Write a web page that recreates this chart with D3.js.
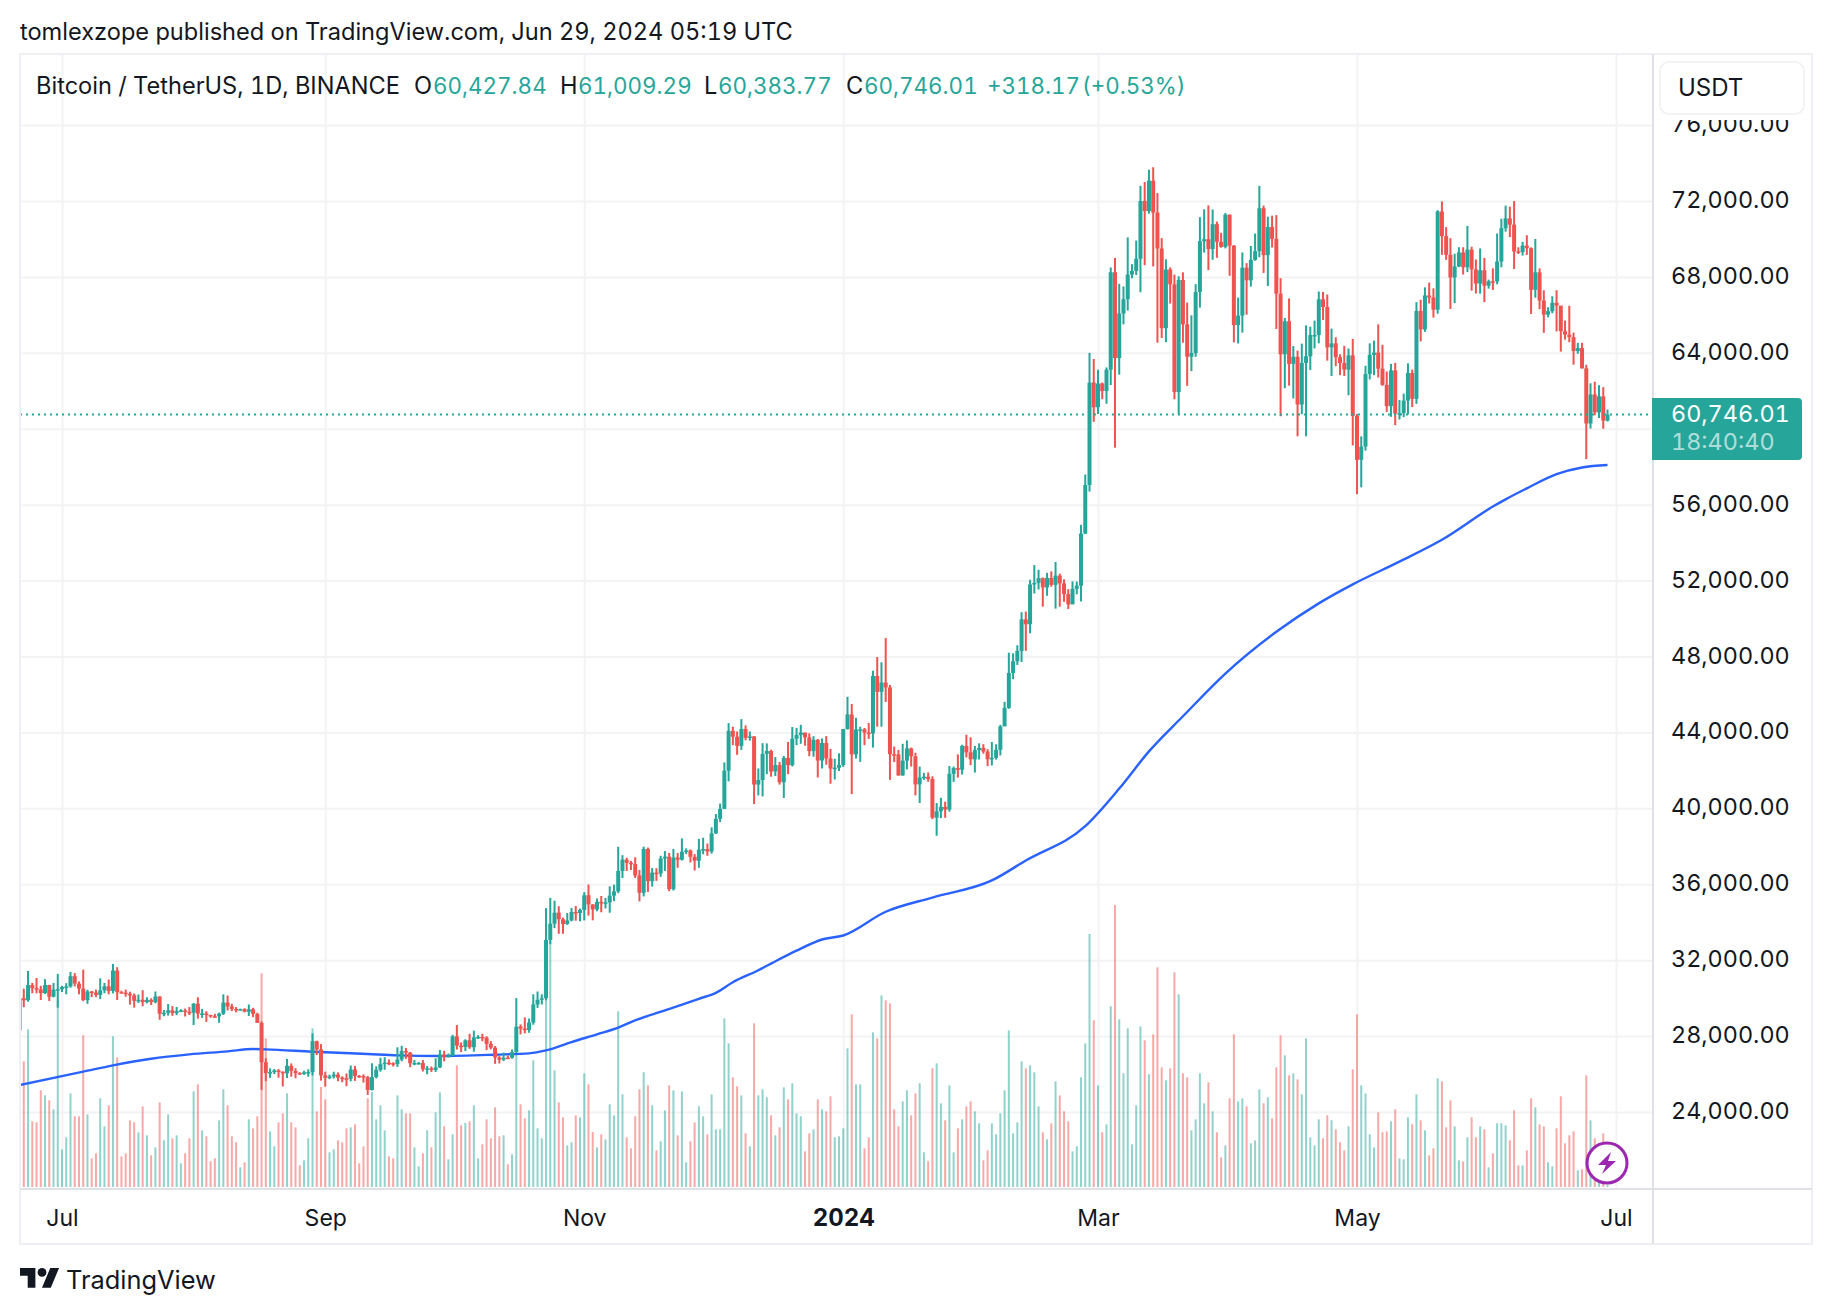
<!DOCTYPE html>
<html>
<head>
<meta charset="utf-8">
<script src="https://cdn.jsdelivr.net/npm/d3@7"></script>
<style>
  body { margin: 0; background: #fff; }
  text { font-family: Inter, "Noto Sans", sans-serif; fill: #131722; font-variant-numeric: tabular-nums; }
</style>
</head>
<body>
<div id="chart-area"></div>
<script>
const UP = "#26a69a"
const DOWN = "#ef5350"
const GRID = "#f3f3f5"

const firstDay = new Date(Date.UTC(2023, 5, 21))

const opens = [28311,29993,29889,30688,30528,30462,30267,30692,30077,30447,
  30472,30585,30617,31156,30767,30504,29895,30348,30292,30171,30414,30620,30380,31454,30312,30289,30230,30145,29856,29913,29793,29908,29790,30083,29176,29228,29354,29213,29314,29352,29281,
  29232,29705,29186,29193,29113,29042,29041,29180,29766,29561,29429,29397,29415,29283,29408,29170,28700,26623,26050,26100,26189,26124,26041,26431,26163,26047,26004,26089,26106,27727,27297,
  25931,25800,25869,25969,25813,25779,25753,26240,25905,25895,25832,25162,25840,26222,26522,26600,26568,26527,26763,27210,27132,26568,26580,26580,26256,26298,26217,26352,27021,26906,
  26962,27983,27494,27426,27778,27412,27931,27956,27917,27590,27391,26875,26759,26862,26852,27154,28500,28396,28320,28713,29669,29910,29992,33069,33922,34502,34156,33909,34089,34538,34484,
  34650,35421,34938,34675,35071,35011,35046,35399,35624,36701,37300,37130,37065,36462,35551,37858,36163,36613,36568,37359,37452,35741,37408,37294,37713,37780,37447,37242,37818,37854,
  37723,38682,39450,39973,41980,44080,43773,43293,44177,43713,43789,41253,41492,42869,43022,41941,42278,41374,42657,42272,43668,43861,43997,43740,43016,43613,42520,43442,42628,42099,42141,
  42283,44179,44946,42845,44151,44162,43989,43943,46970,46139,46627,46368,42853,42842,41732,42511,43154,42742,41262,41618,41665,41545,39507,39845,40077,39933,41816,42120,42035,43288,42952,
  42582,43075,43185,42992,42583,42658,43084,44318,45293,47132,47751,48293,49958,49699,51795,51880,52124,51642,52137,51774,52258,51849,51288,50744,51568,51728,54476,57037,62432,
  61130,62387,61987,63113,68245,63724,66074,66823,68124,68313,68955,72000,71470,73072,71388,69499,65300,68393,67610,61937,67840,65501,63796,63990,67209,69880,69988,69469,70780,69850,69582,
  71280,69649,65463,65963,68487,67821,68896,69360,71620,69146,70631,70006,67116,63924,65661,63419,63793,61277,63470,63818,64941,64941,66819,66414,64289,64498,63770,63461,63118,63866,
  60672,58364,59060,62882,63892,64012,63165,62312,61193,63074,60799,60825,61483,62940,61577,66206,65235,67024,66915,66274,71446,70148,69166,67969,68549,69290,68507,69436,68398,67652,68352,
  67540,67766,67765,68809,70567,71082,70757,69342,69310,69648,69512,67321,68243,66756,66011,66191,66636,66490,65140,64960,64828,64096,64252,63180,60277,61804,60864,61706,60428]

const closes = [29993,29889,30688,30528,30462,30267,30692,30077,30447,30472,
  30585,30617,31156,30767,30504,29895,30348,30292,30171,30414,30620,30380,31454,30312,30289,30230,30145,29856,29913,29793,29908,29790,30083,29176,29228,29354,29213,29314,29352,29281,29232,
  29705,29186,29193,29113,29042,29041,29180,29766,29561,29429,29397,29415,29283,29408,29170,28700,26623,26050,26100,26189,26124,26041,26431,26163,26047,26004,26089,26106,27727,27297,25931,
  25800,25869,25969,25813,25779,25753,26240,25905,25895,25832,25162,25840,26222,26522,26600,26568,26527,26763,27210,27132,26568,26580,26580,26256,26298,26217,26352,27021,26906,26962,
  27983,27494,27426,27778,27412,27931,27956,27917,27590,27391,26875,26759,26862,26852,27154,28500,28396,28320,28713,29669,29910,29992,33069,33922,34502,34156,33909,34089,34538,34484,34650,
  35421,34938,34675,35071,35011,35046,35399,35624,36701,37300,37130,37065,36462,35551,37858,36163,36613,36568,37359,37452,35741,37408,37294,37713,37780,37447,37242,37818,37854,37723,
  38682,39450,39973,41980,44080,43773,43293,44177,43713,43789,41253,41492,42869,43022,41941,42278,41374,42657,42272,43668,43861,43997,43740,43016,43613,42520,43442,42628,42099,42141,42283,
  44179,44946,42845,44151,44162,43989,43943,46970,46139,46627,46368,42853,42842,41732,42511,43154,42742,41262,41618,41665,41545,39507,39845,40077,39933,41816,42120,42035,43288,42952,42582,
  43075,43185,42992,42583,42658,43084,44318,45293,47132,47751,48293,49958,49699,51795,51880,52124,51642,52137,51774,52258,51849,51288,50744,51568,51728,54476,57037,62432,61130,
  62387,61987,63113,68245,63724,66074,66823,68124,68313,68955,72000,71470,73072,71388,69499,65300,68393,67610,61937,67840,65501,63796,63990,67209,69880,69988,69469,70780,69850,69582,71280,
  69649,65463,65963,68487,67821,68896,69360,71620,69146,70631,70006,67116,63924,65661,63419,63793,61277,63470,63818,64941,64941,66819,66414,64289,64498,63770,63461,63118,63866,60672,
  58364,59060,62882,63892,64012,63165,62312,61193,63074,60799,60825,61483,62940,61577,66206,65235,67024,66915,66274,71446,70148,69166,67969,68549,69290,68507,69436,68398,67652,68352,67540,
  67766,67765,68809,70567,71082,70757,69342,69310,69648,69512,67321,68243,66756,66011,66191,66636,66490,65140,64960,64828,64096,64252,63180,60277,61804,60864,61706,60428,60746]

const highs = [30800,30500,31431,30800,31060,30650,31000,30700,30800,31280,
  30650,30790,31375,31320,30880,31500,30440,30380,30450,31045,30800,30980,31804,31630,30390,30450,30340,30245,30190,30417,30045,29990,30350,30100,29375,29690,29580,29530,29415,29450,29530,
  29735,30047,29433,29310,29120,29175,29240,30200,30138,29700,29530,29448,29470,29665,29490,29230,28780,26833,26300,26260,26260,26135,26800,26560,26310,26100,26170,26250,28142,27760,27575,
  26125,25970,26121,26086,25880,26030,26450,26430,25945,25980,25900,26567,26400,26860,26888,26770,26617,27409,27490,27375,27160,26743,26645,26738,26430,26400,26830,27270,27225,27085,
  28065,28580,27670,27830,28120,28290,28050,28120,27990,27735,27475,26945,27130,26970,27295,30000,28615,28985,28920,30200,30350,30200,34741,35280,35132,34840,34245,34480,34750,34850,34720,
  35582,35985,34945,35250,35380,35280,35890,35980,37972,37530,37400,37230,37420,36750,37980,37930,36850,36845,37500,37750,37650,37860,37650,38415,37890,37830,37590,38390,38450,38145,
  38999,39700,40250,42420,44488,44300,44050,44700,44370,44050,43800,42100,43433,43420,43089,42700,42440,42760,43500,44283,44240,44400,43820,43950,43800,43650,43680,43804,43130,42612,42899,
  44184,45879,45500,44770,44300,44235,44495,47248,47972,47695,48969,46500,43257,43076,43400,43578,43199,42930,42200,41869,41889,41689,40280,40555,40350,42225,42200,42842,43350,43882,43745,
  43285,43422,43380,43119,43494,43375,44396,45613,48200,48170,48592,50334,50368,52043,52816,52572,52163,52408,52488,52982,52366,52066,51548,51958,51950,54938,57588,64000,63676,
  63114,62433,63230,68499,69000,67636,67500,70083,68670,69916,72800,73000,73650,73777,72420,70043,68927,68500,68124,68030,68240,66650,65976,67620,71150,71561,71769,71552,70916,70321,71366,
  71288,69674,66914,69291,68725,69629,70284,72797,71758,71172,71227,71256,67932,65840,66867,64355,64117,64486,65450,65380,65700,67233,67208,67075,65275,64820,63923,64370,64228,64734,
  60780,59600,63320,64500,64646,65500,64422,63020,63420,63469,61515,61850,63450,63118,66670,66800,67451,67700,67399,71515,71979,70623,70041,69220,69562,69562,70687,69590,68920,69500,69000,
  67857,68450,70288,71063,71758,71700,71997,69561,69850,70195,69558,69999,68449,67294,66402,66980,67298,66078,65700,66482,65066,64525,64527,63369,62395,62480,62295,62189,61009]

const lows = [28260,29525,29813,30255,30250,29900,30216,29850,30040,29500,
  30320,30200,30550,30620,30200,29840,29700,30050,30050,29950,30260,30200,30250,29900,30250,30070,29660,29500,29750,29570,29720,29640,29725,28861,29045,29080,29070,29100,29260,29033,29110,
  28585,28920,28960,28750,28970,28975,28700,29110,29350,29320,29250,29360,29250,29060,29000,28700,25166,25619,25800,26000,25810,25350,25790,25860,25777,25960,25960,25860,25920,27000,25655,
  25333,25730,25764,25620,25566,25360,25615,25640,25800,25550,24900,25131,25765,26125,26224,26470,26400,26377,26670,26800,26360,26468,26502,26135,25990,26110,26110,26320,26670,26880,
  26950,27290,27160,27210,27330,27176,27850,27730,27260,27300,26538,26558,26685,26810,26810,27112,28090,28140,28175,28600,29485,29665,29883,32840,33690,33390,33390,33860,34050,34080,34050,
  34097,34350,34100,34576,34525,34727,34500,35110,35534,36330,36700,36750,36330,35100,35360,35600,35875,36180,36390,36700,35632,35670,36870,37250,37590,37150,36725,36870,37580,37500,
  37615,38650,39275,39960,41420,43330,42820,43080,43580,43565,40222,40680,40630,41800,41666,41700,41250,40545,41800,42207,43330,43400,43300,42750,42720,41626,42100,42300,41300,41520,41965,
  42180,44148,40750,42620,42450,43330,43660,43200,44300,44300,45606,41500,42436,41720,41718,42050,42200,40683,40280,41500,41400,39431,38555,39484,39500,39825,41394,41620,41780,42683,42276,
  41884,42573,42880,42222,42258,42565,42788,44330,45242,46800,47557,47710,48300,49225,51320,51532,50625,51200,51677,50521,50625,50880,50500,50762,51280,50901,54450,56690,60364,
  60777,61561,61320,62300,59005,62848,65500,66230,67929,68100,67194,68620,71333,68555,64533,64780,64558,66600,61555,60775,64530,62260,63038,63790,66385,69280,68359,68903,69009,69540,69504,
  68062,64550,64493,65064,66011,67491,68851,69041,68210,67518,69557,65254,60660,62134,62274,61600,59600,60767,59600,63090,64230,64500,65732,63589,62783,63297,62824,62781,61765,59120,
  56552,56911,58848,62599,62822,62700,62261,60888,60630,60187,60487,60610,60749,61142,61313,64600,65106,66600,65858,66060,69162,68900,66312,66622,68515,68128,68250,67277,67128,67118,66670,
  67386,67316,67612,68507,70383,70100,68420,69210,69126,69160,66051,66905,66304,65056,65871,66086,65130,64066,64693,64559,63379,63950,63178,58402,60010,60712,60566,60000,60384]

// volume, relative units
const volumes = [612,377,473,197,194,290,275,260,233,560,113,149,281,212,212,455,218,86,101,266,
  182,245,452,389,92,101,200,194,164,242,155,95,119,254,140,218,146,155,71,101,
  146,287,308,170,152,77,86,200,293,245,152,134,59,74,203,176,212,641,446,167,
  122,194,221,281,194,179,65,80,146,476,227,300,263,104,113,140,134,176,179,188,
  71,122,266,285,203,245,170,92,86,275,233,221,221,119,62,101,170,119,224,284,
  182,83,158,365,185,192,197,245,86,128,203,146,239,152,155,68,98,400,248,206,
  230,380,176,146,561,740,350,254,209,125,134,215,209,341,308,165,119,158,143,248,
  215,527,278,149,116,212,293,344,305,245,110,137,230,305,290,155,287,74,137,194,
  242,212,158,278,173,173,506,431,329,302,275,161,122,491,275,293,269,215,155,179,
  299,263,311,221,212,107,161,173,263,233,227,272,149,152,176,416,518,308,308,116,
  149,464,446,575,560,551,233,182,257,290,215,281,311,104,77,356,371,251,200,305,
  104,176,203,242,257,227,191,80,110,191,158,221,290,470,161,194,377,356,365,344,
  242,164,143,191,317,275,227,197,107,122,329,431,759,500,305,164,188,542,846,503,
  341,476,128,245,482,440,338,458,659,359,320,356,644,578,341,329,170,203,341,251,
  314,227,164,89,125,266,458,257,266,242,131,140,293,251,269,206,359,455,395,335,
  341,323,278,446,149,125,203,146,215,200,173,134,110,182,353,518,305,281,158,119,
  224,164,167,197,233,86,83,209,188,278,200,170,95,116,326,317,179,260,182,80,
  77,149,209,149,182,173,59,101,191,191,185,140,230,65,65,110,266,239,188,182,
  74,62,176,272,131,155,167,50,53,335,200,146,130,161,7]

// moving average, read at these candle numbers
const maDays = [0,15,22,31,40,49,55,58,69,82,89,99,112,120,124,130,136,141,144,152,160,164,168,174,177,183,189,194,204,215,229,237,251,259,266,274,284,296,306,314,325,335,347,350,355,362,368,374]
const maValues = [25420,26124,26457,26808,27036,27194,27317,27300,27177,27054,26984,26950,27020,27090,27247,27685,28090,28440,28740,29350,29965,30280,30840,31470,31820,32500,33090,33300,34550,35300,36200,37250,39060,41040,43000,44850,47100,49300,50800,51800,53000,54150,55900,56280,56860,57610,57960,58090]

const gridTicks = [76000,72000,68000,64000,60000,56000,52000,48000,44000,40000,36000,32000,28000,24000]
// 60,000 sits under the last price label, so it has no text in the picture
const priceLabels = [76000,72000,68000,64000,56000,52000,48000,44000,40000,36000,32000,28000,24000]
const timeTicks = [[2023,6,"Jul"],[2023,8,"Sep"],[2023,10,"Nov"],[2024,0,"2024"],[2024,2,"Mar"],[2024,4,"May"],[2024,6,"Jul"]]
const legendTitle = "Bitcoin / TetherUS, 1D, BINANCE"
const legendLetters = ["O", "H", "L", "C"]
const legendValues = ["60,427.84", "61,009.29", "60,383.77", "60,746.01", "+318.17", "(+0.53%)"]

const LETTER_X = [414, 560, 704, 846]
const VALUE_X = [433, 578, 718, 864, 987, 1082]

const PANE = { LEFT: 20, RIGHT: 1653, TOP: 54, BOTTOM: 1189, OUTER_RIGHT: 1812, OUTER_BOTTOM: 1244 }

const svg = d3.select("#chart-area").append("svg")
  .attr("width", 1832)
  .attr("height", 1314)
  .style("display", "block")

const days = closes.map((d, i) => d3.utcDay.offset(firstDay, i))

const xScale = d3.scaleUtc()
  .domain([new Date(Date.UTC(2023, 6, 1)), new Date(Date.UTC(2024, 6, 1))])
  .range([62, 1616])

const yScale = d3.scaleLinear()
  .domain([24000, 72000])
  .range([1112, 201])

const volScale = d3.scaleLinear()
  .domain([0, 846])
  .range([1187, 905])

svg.append("clipPath").attr("id", "pane")
  .append("rect")
  .attr("x", PANE.LEFT).attr("y", PANE.TOP)
  .attr("width", PANE.RIGHT - PANE.LEFT).attr("height", PANE.BOTTOM - PANE.TOP)

// grid
const tickDates = timeTicks.map(d => new Date(Date.UTC(d[0], d[1], 1)))
const xGrid = svg.append("g")
  .attr("transform", `translate(0, ${PANE.BOTTOM})`)
  .call(d3.axisBottom(xScale).tickValues(tickDates).tickSize(-(PANE.BOTTOM - PANE.TOP)).tickFormat(""))
xGrid.select(".domain").remove()
xGrid.selectAll("line").attr("stroke", GRID).attr("stroke-width", 2)

const yGrid = svg.append("g")
  .attr("transform", `translate(${PANE.RIGHT}, 0)`)
  .call(d3.axisLeft(yScale).tickValues(gridTicks).tickSize(PANE.RIGHT - PANE.LEFT).tickFormat(""))
yGrid.select(".domain").remove()
yGrid.selectAll("line").attr("stroke", GRID).attr("stroke-width", 2)

const g = svg.append("g").attr("clip-path", "url(#pane)")

// volume
g.selectAll(".vol")
  .data(volumes)
  .enter().append("rect")
  .attr("class", "vol")
  .attr("x", (d, i) => xScale(days[i]) - 1)
  .attr("width", 2)
  .attr("y", d => volScale(d))
  .attr("height", d => volScale(0) - volScale(d))
  .attr("fill", (d, i) => closes[i] >= opens[i] ? UP : DOWN)
  .attr("fill-opacity", 0.5)

// moving average
const maLine = d3.line()
  .x((d, i) => xScale(days[maDays[i]]))
  .y(d => yScale(d))
  .curve(d3.curveMonotoneX)
g.append("path")
  .attr("d", maLine(maValues))
  .attr("fill", "none")
  .attr("stroke", "#2962ff")
  .attr("stroke-width", 2.4)

// candles
const candles = g.selectAll(".candle")
  .data(closes)
  .enter().append("g")
  .attr("class", "candle")
  .attr("fill", (d, i) => d >= opens[i] ? UP : DOWN)
candles.append("rect")
  .attr("x", (d, i) => xScale(days[i]) - 1)
  .attr("width", 2)
  .attr("y", (d, i) => yScale(highs[i]))
  .attr("height", (d, i) => yScale(lows[i]) - yScale(highs[i]))
candles.append("rect")
  .attr("x", (d, i) => xScale(days[i]) - 2)
  .attr("width", 4)
  .attr("y", (d, i) => yScale(Math.max(d, opens[i])))
  .attr("height", (d, i) => Math.max(1.5, Math.abs(yScale(d) - yScale(opens[i]))))

// last price line
const lastClose = closes[closes.length - 1]
svg.append("line")
  .attr("x1", PANE.LEFT).attr("x2", PANE.RIGHT)
  .attr("y1", yScale(lastClose)).attr("y2", yScale(lastClose))
  .attr("stroke", UP)
  .attr("stroke-width", 2)
  .attr("stroke-dasharray", "2 4")

// frame
const FRAME = "#f0f0f4"
svg.append("rect")
  .attr("x", PANE.LEFT).attr("y", PANE.TOP)
  .attr("width", PANE.OUTER_RIGHT - PANE.LEFT).attr("height", PANE.OUTER_BOTTOM - PANE.TOP)
  .attr("fill", "none").attr("stroke", FRAME).attr("stroke-width", 2)
svg.append("line")
  .attr("x1", PANE.RIGHT).attr("x2", PANE.RIGHT)
  .attr("y1", PANE.TOP).attr("y2", PANE.OUTER_BOTTOM)
  .attr("stroke", "#e0e1e6").attr("stroke-width", 2)
svg.append("line")
  .attr("x1", PANE.LEFT).attr("x2", PANE.OUTER_RIGHT)
  .attr("y1", PANE.BOTTOM).attr("y2", PANE.BOTTOM)
  .attr("stroke", "#e0e1e6").attr("stroke-width", 2)

// price axis
const yAxis = svg.append("g")
  .attr("transform", "translate(1671, -1)")
  .call(d3.axisRight(yScale).tickValues(priceLabels).tickSize(0).tickPadding(0).tickFormat(d3.format(",.2f")))
yAxis.select(".domain").remove()
yAxis.selectAll("text").style("font-size", "23.4px").style("font-family", "Inter").style("font-variant-numeric", "tabular-nums")

// time axis
const xAxis = svg.append("g")
  .attr("transform", `translate(0, ${PANE.BOTTOM})`)
  .call(d3.axisBottom(xScale).tickValues(tickDates).tickSize(0).tickPadding(0)
    .tickFormat((d, i) => timeTicks[i][2]))
xAxis.select(".domain").remove()
xAxis.selectAll("text")
  .attr("y", 29)
  .attr("dy", "0.35em")
  .style("font-size", (d, i) => timeTicks[i][2] === "2024" ? "24px" : "23px")
  .style("font-family", "Inter")
  .style("font-weight", (d, i) => timeTicks[i][2] === "2024" ? 700 : 400)

// top of the price scale is hidden by the currency box
svg.append("rect")
  .attr("x", 1655).attr("y", 55).attr("width", 155).attr("height", 65).attr("fill", "#fff")
svg.append("rect")
  .attr("x", 1660).attr("y", 62).attr("width", 144).attr("height", 52).attr("rx", 9)
  .attr("fill", "#fff").attr("stroke", "#f0f0f4").attr("stroke-width", 1.5)
svg.append("text")
  .attr("x", 1678).attr("y", 88).attr("dy", "0.35em")
  .attr("font-size", 24)
  .text("USDT")

// last price label
svg.append("path")
  .attr("d", "M1652,398H1798a4,4 0 0 1 4,4V456a4,4 0 0 1 -4,4H1652Z")
  .attr("fill", UP)
svg.append("text")
  .attr("x", 1671).attr("y", 414).attr("dy", "0.35em")
  .attr("font-size", 23.4)
  .style("fill", "#fff")
  .text(d3.format(",.2f")(60746.01))
svg.append("text")
  .attr("x", 1671).attr("y", 442).attr("dy", "0.35em")
  .attr("font-size", 23.4)
  .style("fill", "rgba(255,255,255,0.65)")
  .text("18:40:40")

// header and legend
svg.append("text")
  .attr("x", 20).attr("y", 32).attr("dy", "0.35em")
  .attr("font-size", 23.58)
  .text("tomlexzope published on TradingView.com, Jun 29, 2024 05:19 UTC")

svg.append("text")
  .attr("x", 36).attr("y", 86).attr("dy", "0.35em")
  .attr("font-size", 23.6)
  .text(legendTitle)

svg.selectAll(".legend-letter")
  .data(legendLetters)
  .enter().append("text")
  .attr("class", "legend-letter")
  .attr("x", (d, i) => LETTER_X[i])
  .attr("y", 86).attr("dy", "0.35em")
  .attr("font-size", 23.6)
  .text(d => d)

svg.selectAll(".legend-value")
  .data(legendValues)
  .enter().append("text")
  .attr("class", "legend-value")
  .attr("x", (d, i) => VALUE_X[i])
  .attr("y", 86).attr("dy", "0.35em")
  .attr("font-size", 22.4)
  .style("fill", UP)
  .text(d => d)

// lightning badge
const badge = svg.append("g").attr("transform", "translate(1607, 1163)")
badge.append("circle")
  .attr("r", 20).attr("fill", "#fff").attr("stroke", "#9c27b0").attr("stroke-width", 3)
badge.append("path")
  .attr("d", "M4,-11 L-9,2 L-1,2 L-5,11 L9,-2 L1,-2 Z")
  .attr("fill", "#9c27b0")

// logo and footer
const logo = svg.append("g").attr("transform", "translate(20, 1263.6) scale(1.1)").attr("fill", "#131722")
logo.append("path").attr("d", "M14 22H7V11H0V4h14v18ZM28 22h-8l7.5-18h8L28 22Z")
logo.append("circle").attr("cx", 20).attr("cy", 8).attr("r", 4)
svg.append("text")
  .attr("x", 66).attr("y", 1280).attr("dy", "0.35em")
  .attr("font-size", 25.4)
  .text("TradingView")
</script>
</body>
</html>
